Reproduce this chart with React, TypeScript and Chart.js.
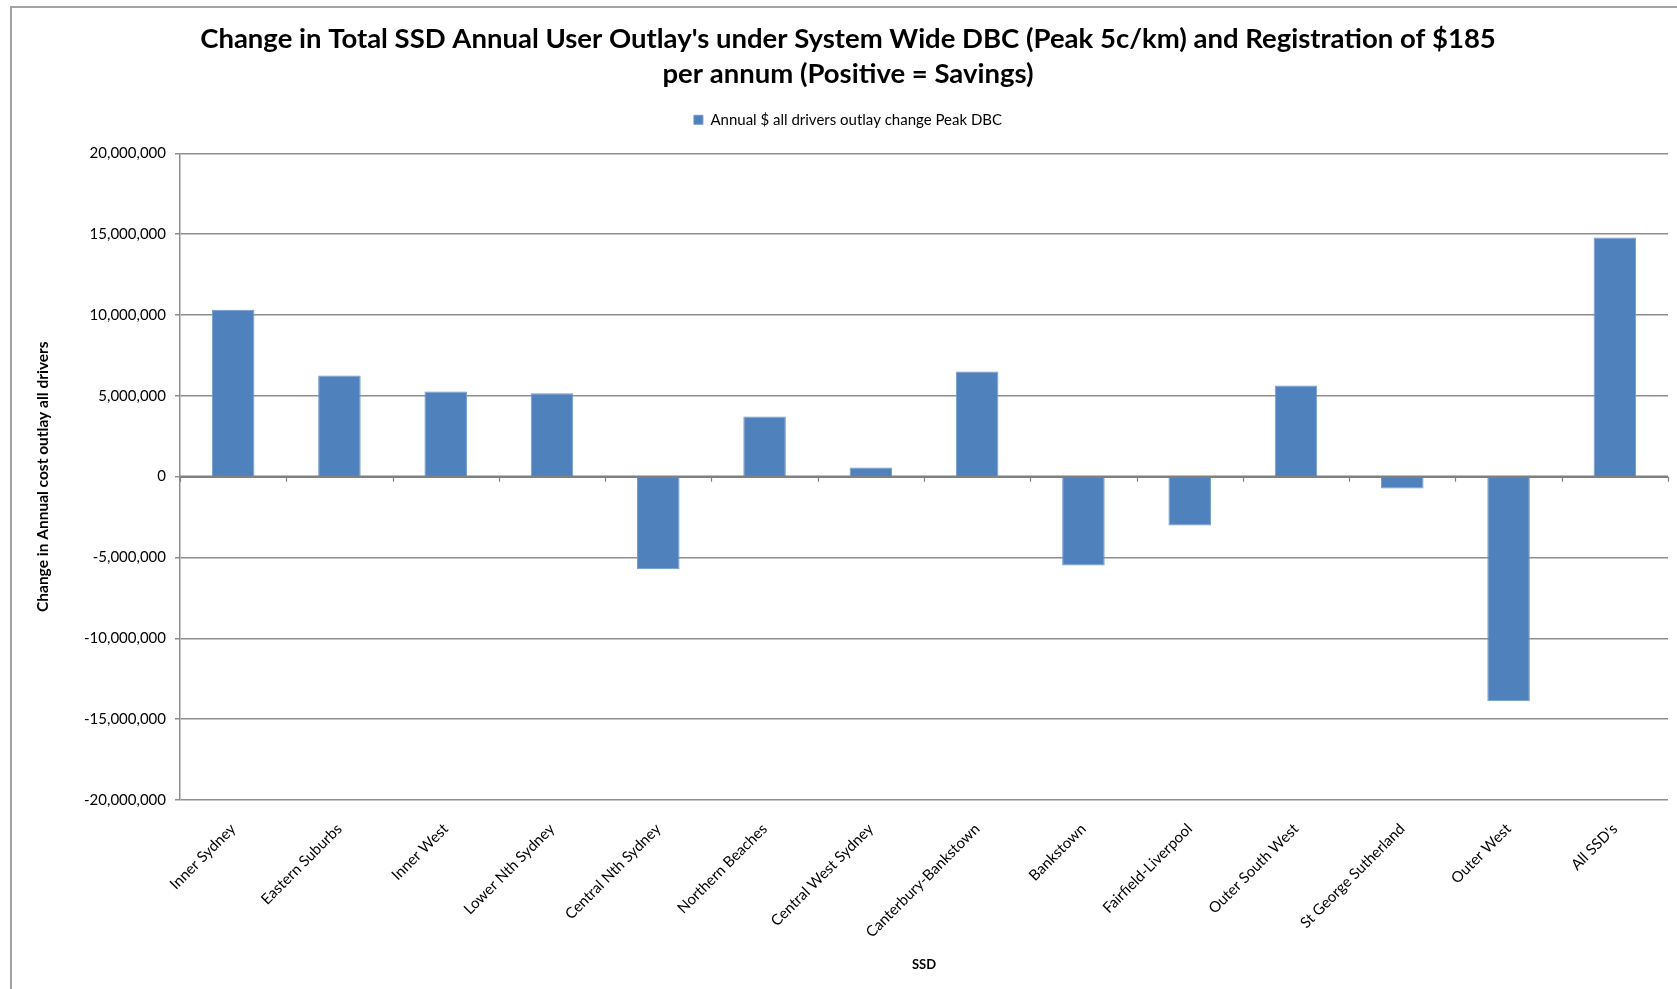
import { useEffect, useRef } from "react";
import { Chart, registerables } from "chart.js";

Chart.register(...registerables);

// Statistical subdivisions (SSD) along the category axis
const categories = [
  "Inner Sydney",
  "Eastern Suburbs",
  "Inner West",
  "Lower Nth Sydney",
  "Central Nth Sydney",
  "Northern Beaches",
  "Central West Sydney",
  "Canterbury-Bankstown",
  "Bankstown",
  "Fairfield-Liverpool",
  "Outer South West",
  "St George Sutherland",
  "Outer West",
  "All SSD's",
];

// Annual $ outlay change for all drivers (positive = savings)
const outlayChange = [
  10330000, 6260000, 5270000, 5160000, -5720000, 3720000, 560000, 6500000,
  -5490000, -3020000, 5640000, -740000, -13890000, 14790000,
];

const seriesLabel = "Annual $ all drivers outlay change Peak DBC";
const titleLines = [
  "Change in Total SSD Annual User Outlay's under System Wide DBC (Peak 5c/km) and Registration of $185",
  "per annum (Positive = Savings)",
];
const yAxisTitle = "Change in Annual cost outlay all drivers";
const xAxisTitle = "SSD";

const yMin = -20000000;
const yMax = 20000000;
const yStep = 5000000;

const FONT = "Lato, 'Open Sans', sans-serif";
const GRID = "#8e8e8e";

// Extra room between the legend row and the plot area
const legendGap = {
  id: "legendGap",
  afterInit(chart: any) {
    const lg = chart.legend;
    if (!lg || lg.__gapPatched) return;
    const fit = lg.fit;
    lg.fit = function () {
      fit.call(this);
      this.height += 16;
    };
    lg.__gapPatched = true;
  },
};

// Centre the title and legend on the whole framed panel rather than the canvas
const headerShift = {
  id: "headerShift",
  afterLayout(chart: any) {
    const dx = 14;
    for (const box of [chart.titleBlock, chart.legend]) {
      if (!box) continue;
      box.left += dx;
      box.right += dx;
    }
  },
};

// Category-boundary tick marks hanging below the zero line
const zeroAxisTicks = {
  id: "zeroAxisTicks",
  afterDatasetsDraw(chart: any) {
    const x = chart.scales.x;
    const y = chart.scales.y;
    const y0 = y.getPixelForValue(0);
    const ctx = chart.ctx;
    ctx.save();
    ctx.strokeStyle = "#808080";
    ctx.lineWidth = 2.5;
    ctx.beginPath();
    ctx.moveTo(chart.chartArea.left, y0);
    ctx.lineTo(chart.chartArea.right, y0);
    ctx.stroke();
    ctx.lineWidth = 1.2;
    ctx.beginPath();
    for (let i = 0; i <= categories.length; i++) {
      const px = Math.round(x.getPixelForValue(i - 0.5)) + 0.5;
      ctx.moveTo(px, y0);
      ctx.lineTo(px, y0 + 5);
    }
    ctx.stroke();
    ctx.restore();
  },
};

function OutlayChart() {
  const ref = useRef<HTMLCanvasElement>(null);

  useEffect(() => {
    if (!ref.current) return;
    const chart = new Chart(ref.current, {
      type: "bar",
      data: {
        labels: categories,
        datasets: [
          {
            label: seriesLabel,
            data: outlayChange,
            backgroundColor: "#4F81BD",
            borderColor: "#7199CB",
            borderWidth: 1,
            barPercentage: 0.4,
            categoryPercentage: 1,
          },
        ],
      },
      plugins: [legendGap, headerShift, zeroAxisTicks],
      options: {
        responsive: false,
        animation: false,
        devicePixelRatio: 1,
        layout: { padding: { left: 0, right: 9, top: 0, bottom: 0 } },
        plugins: {
          title: {
            display: true,
            text: titleLines,
            color: "#000",
            font: { family: FONT, size: 27.5, weight: "bold", lineHeight: 1.26 },
            padding: { top: 22, bottom: 11 },
          },
          legend: {
            display: true,
            position: "top",
            labels: {
              color: "#000",
              font: { family: FONT, size: 15 },
              boxWidth: 9,
              boxHeight: 9,
              padding: 10,
            },
          },
          tooltip: { enabled: false },
        },
        scales: {
          x: {
            type: "category",
            offset: true,
            grid: { display: false, drawTicks: false },
            border: { display: false },
            ticks: {
              color: "#000",
              font: { family: FONT, size: 15 },
              minRotation: 45,
              maxRotation: 45,
              autoSkip: false,
              padding: 20,
            },
            title: {
              display: true,
              text: xAxisTitle,
              color: "#000",
              font: { family: FONT, size: 13, weight: "bold" },
              padding: { top: 0, bottom: 16 },
            },
            afterFit(scale: any) {
              scale.height = 189;
            },
          },
          y: {
            min: yMin,
            max: yMax,
            grid: {
              color: GRID,
              lineWidth: 1.5,
              tickLength: 5,
              drawTicks: true,
            },
            border: { display: true, color: GRID, width: 1.5 },
            ticks: {
              stepSize: yStep,
              color: "#000",
              font: { family: FONT, size: 15 },
              padding: 9,
              callback: (v: any) => Number(v).toLocaleString("en-US"),
            },
            title: {
              display: true,
              text: yAxisTitle,
              color: "#000",
              font: { family: FONT, size: 15.5, weight: "bold" },
              padding: { top: 34, bottom: 0 },
            },
            afterFit(scale: any) {
              scale.width = 180;
            },
          },
        },
      },
    });
    return () => chart.destroy();
  }, []);

  return (
    <canvas
      ref={ref}
      width={1677}
      height={989}
      style={{ display: "block", width: 1677, height: 989 }}
    />
  );
}

export default function App() {
  return (
    <div
      style={{
        position: "fixed",
        left: 0,
        top: 0,
        width: 1677,
        height: 989,
        overflow: "hidden",
        background: "#fff",
      }}
    >
      <div
        style={{
          position: "absolute",
          left: 10,
          top: 6,
          width: 1800,
          height: 1200,
          border: "2px solid #a3a3a3",
          pointerEvents: "none",
        }}
      />
      <div style={{ position: "absolute", left: 0, top: 0 }}>
        <OutlayChart />
      </div>
    </div>
  );
}
